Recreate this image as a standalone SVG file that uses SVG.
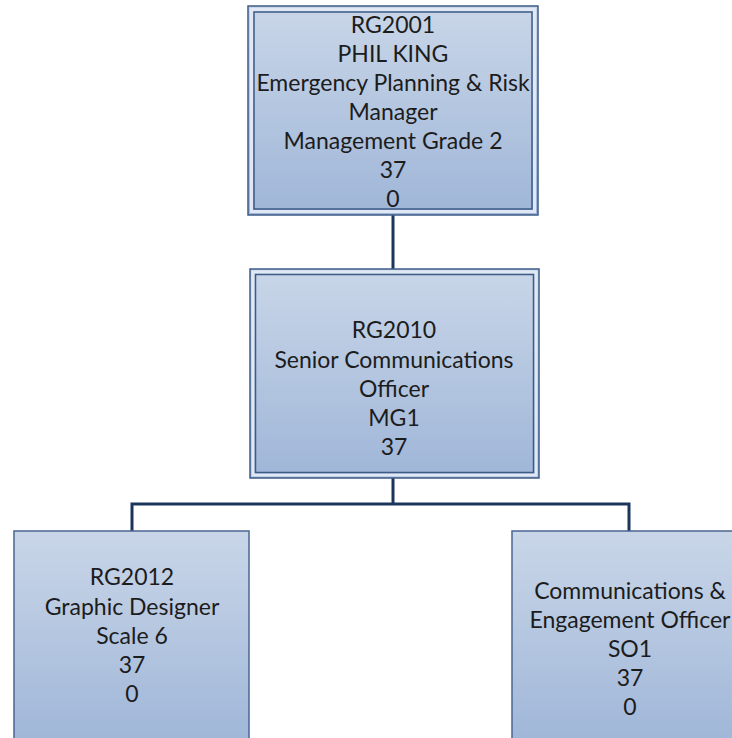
<svg xmlns="http://www.w3.org/2000/svg" width="732" height="738" viewBox="0 0 732 738">
<defs>
<linearGradient id="fill" x1="0" y1="0" x2="0" y2="1">
<stop offset="0" stop-color="#c9d6e8"/>
<stop offset="1" stop-color="#9fb6d8"/>
</linearGradient>
<style>
.outer{fill:url(#fill);stroke:#3e5b86;stroke-width:1.5}
.inner{fill:none;stroke:#3e5b86;stroke-width:1.5}
.gap{fill:none;stroke:#dfe8f4;stroke-width:3}
.single{fill:url(#fill);stroke:#4a6690;stroke-width:1.5}
.conn{fill:none;stroke:#1b365c;stroke-width:3}
text{font-family:Lato,"Open Sans",sans-serif;font-size:23px;fill:#1c1c1c;text-anchor:middle}
</style>
</defs>
<rect width="732" height="738" fill="#ffffff"/>
<g id="connectors">
<path class="conn" d="M393 212 V270"/>
<path class="conn" d="M393 475 V504 M132 531 V504 H629 V531"/>
</g>
<g id="node-rg2001">
<rect class="outer" x="248" y="6" width="290" height="209"/>
<rect class="gap" x="251.5" y="9.5" width="283" height="202"/>
<rect class="inner" x="254" y="12" width="278" height="197"/>
<text x="393" y="33">RG2001</text>
<text x="393" y="62">PHIL KING</text>
<text x="393" y="91">Emergency Planning &amp; Risk</text>
<text x="393" y="120">Manager</text>
<text x="393" y="149">Management Grade 2</text>
<text x="393" y="178">37</text>
<text x="393" y="207">0</text>
</g>
<g id="node-rg2010">
<rect class="outer" x="250" y="269" width="289" height="209"/>
<rect class="gap" x="253" y="272" width="283" height="203"/>
<rect class="inner" x="255.5" y="274.5" width="278" height="198"/>
<text x="394" y="338">RG2010</text>
<text x="394" y="368">Senior Communications</text>
<text x="394" y="397">Officer</text>
<text x="394" y="426">MG1</text>
<text x="394" y="455">37</text>
</g>
<g id="node-rg2012">
<rect class="single" x="14" y="531" width="235" height="215"/>
<text x="132" y="585">RG2012</text>
<text x="132" y="615">Graphic Designer</text>
<text x="132" y="644">Scale 6</text>
<text x="132" y="673">37</text>
<text x="132" y="702">0</text>
</g>
<g id="node-comms">
<rect class="single" x="512" y="531" width="240" height="215"/>
<text x="630" y="599">Communications &amp;</text>
<text x="630" y="628">Engagement Officer</text>
<text x="630" y="657">SO1</text>
<text x="630" y="686">37</text>
<text x="630" y="715">0</text>
</g>
</svg>
